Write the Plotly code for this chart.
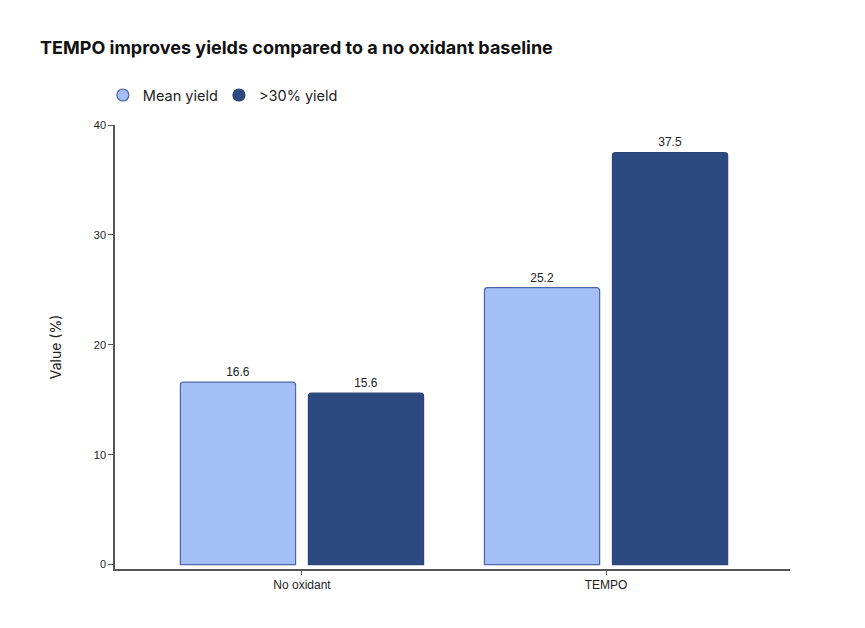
import plotly.graph_objects as go

categories = ["No oxidant", "TEMPO"]
mean_yield = [16.6, 25.2]
over_30_yield = [15.6, 37.5]
y_ticks = [0, 10, 20, 30, 40]

LIGHT = "#a4bff6"
LIGHT_EDGE = "#4866a8"
DARK = "#2d4a80"
DARK_EDGE = "#2a4578"

# page body adds an 8px offset, so positions below are shifted back by 8
fig = go.Figure()

# bars (legend handled by dummy circle traces below)
for name, vals, fill, edge in [
    ("Mean yield", mean_yield, LIGHT, LIGHT_EDGE),
    (">30% yield", over_30_yield, DARK, DARK_EDGE),
]:
    fig.add_trace(
        go.Bar(
            x=categories,
            y=vals,
            name=name,
            showlegend=False,
            marker=dict(color=fill, line=dict(color=edge, width=1.2), cornerradius=3),
            text=[f"{v:.1f}" for v in vals],
            textposition="outside",
            cliponaxis=False,
            textfont=dict(family="Liberation Sans, Arial", size=12, color="#222222"),
        )
    )

# one legend per item so the spacing can match the original
for name, fill, edge, leg in [
    ("Mean yield", LIGHT, LIGHT_EDGE, "legend"),
    (">30% yield", DARK, DARK_EDGE, "legend2"),
]:
    fig.add_trace(
        go.Scatter(
            x=[None],
            y=[None],
            mode="markers",
            name=name,
            legend=leg,
            marker=dict(symbol="circle", size=12, color=fill, line=dict(color=edge, width=1.2)),
        )
    )

legend_style = dict(
    orientation="h",
    y=0.876,
    yanchor="middle",
    xanchor="left",
    font=dict(family="Inter", size=14.5, color="#222222"),
    itemwidth=30,
    bgcolor="rgba(0,0,0,0)",
)

fig.update_layout(
    width=865,
    height=628,
    paper_bgcolor="white",
    plot_bgcolor="white",
    barmode="group",
    bargap=0.158,
    bargroupgap=0.1,
    margin=dict(l=107, r=83, t=20, b=67),
    title=dict(
        text="<b>TEMPO improves yields compared to a no oxidant baseline</b>",
        font=dict(family="Inter", size=18, color="#111111"),
        x=32 / 865,
        xanchor="left",
        xref="container",
        y=1 - 40 / 628,
        yanchor="middle",
        yref="container",
    ),
    legend=dict(legend_style, x=-0.018),
    legend2=dict(legend_style, x=0.154),
    xaxis=dict(
        range=[-0.615, 1.605],
        showline=True,
        linecolor="#555555",
        linewidth=1.5,
        ticks="outside",
        ticklen=4,
        tickcolor="#555555",
        showgrid=False,
        tickfont=dict(family="Liberation Sans, Arial", size=12, color="#222222"),
    ),
    yaxis=dict(
        domain=[0, 0.8207],
        range=[-0.4, 40],
        tickvals=y_ticks,
        showline=True,
        linecolor="#555555",
        linewidth=1.5,
        ticks="outside",
        ticklen=5,
        tickcolor="#555555",
        showgrid=False,
        zeroline=False,
        tickfont=dict(family="Liberation Sans, Arial", size=11, color="#222222"),
        title=dict(
            text="Value (%)",
            font=dict(family="Inter", size=14, color="#222222"),
            standoff=29,
        ),
    ),
)

fig.write_html("out.html")
